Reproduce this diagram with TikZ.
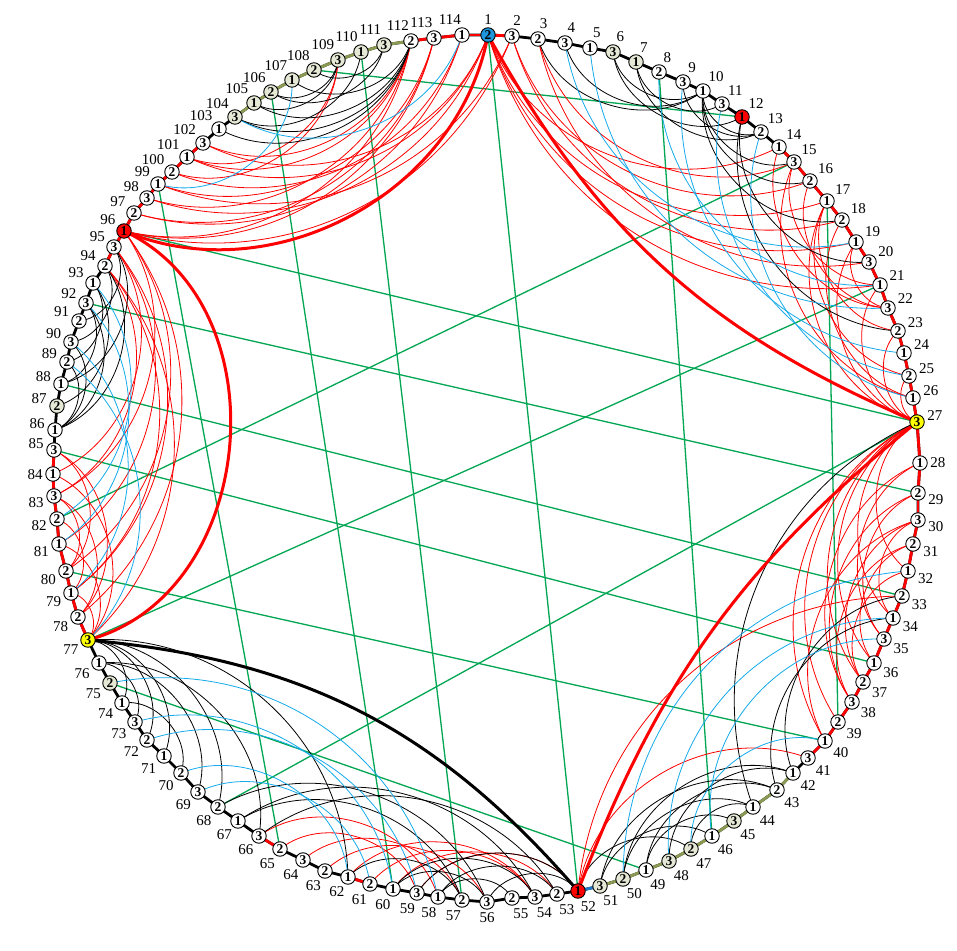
\documentclass[tikz,border=0pt]{standalone}
\usepackage{fontspec}
\setmainfont{Liberation Serif}
\usetikzlibrary{calc}

\definecolor{arcred}{RGB}{255,0,0}
\definecolor{arcblue}{RGB}{20,170,235}
\definecolor{chordgreen}{RGB}{0,166,81}
\definecolor{rimolive}{RGB}{138,154,82}
\definecolor{rimblue}{RGB}{30,120,200}
\definecolor{vtxbeige}{RGB}{230,232,214}
\definecolor{vtxblue}{RGB}{30,150,220}
\definecolor{vtxyellow}{RGB}{255,255,0}

% vertex / x px / y px / colour class / fill
\def\vtxlist{1/488/35/2/vtxblue, 2/512/36/3/white, 3/538/39/2/white, 4/565/43/3/white,
  5/590/48/1/white, 6/613/52/3/vtxbeige, 7/636/62/1/vtxbeige, 8/659/72/2/white,
  9/683/82/3/white, 10/703/91/1/white, 11/722/104/3/white, 12/742/117/1/red,
  13/761/132/2/white, 14/779/147/1/white, 15/794/162/3/white, 16/810/181/2/white,
  17/827/201/1/white, 18/842/220/2/white, 19/856/242/1/white, 20/869/262/3/white,
  21/880/285/1/white, 22/888/308/3/white, 23/898/331/2/white, 24/904/353/1/white,
  25/909/376/2/white, 26/913/398/1/white, 27/917/422/3/vtxyellow, 28/920/463/1/white,
  29/918/493/2/white, 30/918/520/3/white, 31/913/544/2/white, 32/908/571/1/white,
  33/902/596/2/white, 34/893/618/1/white, 35/884/639/3/white, 36/874/663/1/white,
  37/863/682/2/white, 38/852/702/3/white, 39/838/722/2/white, 40/825/741/1/white,
  41/808/758/3/white, 42/793/773/1/white, 43/777/790/2/white, 44/753/807/1/white,
  45/734/821/3/vtxbeige, 46/712/836/1/white, 47/691/849/2/vtxbeige, 48/669/861/3/vtxbeige,
  49/646/870/1/white, 50/623/879/2/vtxbeige, 51/600/886/3/vtxbeige, 52/578/891/1/red,
  53/557/894/2/white, 54/535/897/3/white, 55/512/898/2/white, 56/487/902/3/white,
  57/462/900/2/white, 58/438/897/1/white, 59/417/893/3/white, 60/393/889/1/white,
  61/370/884/2/white, 62/348/877/1/white, 63/325/871/2/white, 64/303/860/3/white,
  65/280/849/2/white, 66/259/836/3/white, 67/238/821/1/white, 68/218/807/2/white,
  69/198/792/3/white, 70/181/773/2/white, 71/164/756/1/white, 72/147/740/2/white,
  73/135/722/3/white, 74/122/703/1/white, 75/110/683/2/vtxbeige, 76/99/663/1/white,
  77/88/640/3/vtxyellow, 78/78/617/2/white, 79/71/593/1/white, 80/66/571/2/white,
  81/59/544/1/white, 82/57/519/2/white, 83/54/496/3/white, 84/53/474/1/white,
  85/54/450/3/white, 86/55/430/1/white, 87/57/406/2/vtxbeige, 88/61/384/1/white,
  89/67/362/2/white, 90/71/342/3/white, 91/79/321/2/white, 92/86/303/3/white,
  93/93/283/1/white, 94/105/266/2/white, 95/114/247/3/white, 96/124/231/1/red,
  97/134/213/2/white, 98/147/198/3/white, 99/158/184/1/white, 100/172/172/2/white,
  101/187/157/1/white, 102/203/143/3/white, 103/219/129/1/white, 104/235/117/3/vtxbeige,
  105/254/103/1/vtxbeige, 106/271/92/2/vtxbeige, 107/292/80/1/vtxbeige, 108/314/70/2/vtxbeige,
  109/338/60/3/vtxbeige, 110/361/52/1/vtxbeige, 111/384/45/3/vtxbeige, 112/411/41/2/white,
  113/434/38/3/white, 114/462/35/1/white}

% thin arcs bent towards the centre
\newcommand{\chords}[2]{%
  \foreach \a/\b in {#2}{%
    \expandafter\let\expandafter\angA\csname ang\a\endcsname
    \expandafter\let\expandafter\angB\csname ang\b\endcsname
    \pgfmathsetmacro\th{mod(\angA-(\angB)+720,360)}
    \pgfmathsetmacro\bnd{ifthenelse(\th<180,1,-1)*0.7*(90-min(\th,360-\th)/2)}
    \pgfmathsetmacro\outa{-\bnd}
    \pgfmathsetmacro\ina{180+\bnd}
    \draw[#1] (p\a) to[out=\outa, in=\ina, relative] (p\b);
  }}

\begin{document}
\begin{tikzpicture}[x=1pt, y=1pt,
    vtx/.style={circle, draw, line width=0.9pt, minimum size=14.5pt, inner sep=0pt,
      font=\fontsize{13.5}{13.5}\selectfont\bfseries},
    lbl/.style={font=\fontsize{15}{15}\selectfont, label distance=2pt, inner sep=0.5pt},
    rim/.style={line width=2.8pt, line cap=round},
    thinred/.style={arcred, line width=0.8pt},
    thinblack/.style={black, line width=0.8pt},
    thinblue/.style={arcblue, line width=0.8pt},
    chord/.style={chordgreen, line width=1.3pt},
    heavy/.style={line width=3pt}]
  \useasboundingbox (0,0) rectangle (957,950);

  % vertex positions and their angles round the centre
  \foreach \i/\x/\y/\d/\s in \vtxlist {
    \coordinate (p\i) at (\x,{950-\y});
    \pgfmathsetmacro\ang{atan2(467.5-\y,\x-485.5)}
    \expandafter\xdef\csname ang\i\endcsname{\ang}
  }

  % Green straight chords
  \foreach \a/\b in {1/52, 108/12, 110/57, 106/60, 99/65, 8/46, 17/39, 15/82,
      21/77, 27/68, 27/96, 33/88, 36/85, 40/80, 29/92, 75/49}
    \draw[chord] (p\a) -- (p\b);

  % Red thin arcs
  \chords{thinred}{96/112, 96/113, 96/2, 97/113, 97/114, 98/112, 98/1, 99/113, 99/2,
    100/109, 100/114, 101/109, 101/112, 101/1, 102/1, 102/112,
    1/14, 1/17, 1/19, 1/21, 2/16, 2/18, 3/15, 3/20, 14/22, 15/21, 15/26, 16/22,
    17/23, 17/25, 18/26, 19/22, 17/27, 19/27, 21/27, 23/27, 25/27,
    27/32, 27/34, 27/36, 27/37, 27/39, 27/40, 28/35, 28/38, 29/35, 29/38,
    30/34, 30/37, 30/40, 31/36, 31/38, 32/37, 33/52, 41/52,
    77/79, 77/81, 77/84, 78/83, 78/85, 79/82, 80/83, 80/85,
    96/78, 96/80, 96/83, 95/79, 95/81, 95/84, 94/77, 94/79, 94/83,
    58/66, 59/65, 57/64, 56/63, 54/62, 54/61, 53/60, 52/59}

  % Black thin arcs
  \chords{thinblack}{103/112, 104/112, 105/112, 107/112, 104/110, 106/109, 106/111,
    108/111, 105/109,
    3/10, 4/10, 6/10, 7/11, 6/12, 7/13, 9/13, 10/13, 10/15, 10/16, 10/18, 12/20, 12/23,
    27/44, 33/42, 34/43, 42/48, 42/50, 43/49, 43/51, 44/47, 44/50, 45/49, 46/51, 47/52,
    52/56, 52/59, 53/58, 54/60, 55/58, 56/60, 57/62, 53/66, 54/67, 57/67, 56/68,
    68/77, 71/77, 72/77, 74/77, 69/76, 73/76, 70/74, 62/77, 66/76,
    86/89, 86/90, 86/92, 86/94, 87/93, 88/92, 88/95, 89/93, 90/94, 91/95}

  % Blue thin arcs
  \chords{thinblue}{99/107, 104/114, 4/19, 5/22, 8/21, 9/24, 11/25, 13/26,
    32/50, 34/48, 35/46, 40/47, 58/75, 60/73, 59/72, 62/70, 61/69,
    77/89, 79/90, 81/92, 82/93}

  % Heavy arcs between the marked vertices
  \draw[heavy, arcred] (p96) to[bend right=51] (p1);
  \draw[heavy, arcred] (p1) to[bend right=19] (p27);
  \draw[heavy, arcred] (p27) to[bend right=15] (p52);
  \draw[heavy, black] (p52) to[bend right=22] (p77);
  \draw[heavy, arcred] (p77) to[bend right=70, looseness=1.1] (p96);

  % Outer cycle
  \draw[rim] (p1) \foreach \i in {2,...,114} { -- (p\i) } -- cycle;
  \foreach \a in {112,113,114,1,61,65} {
    \pgfmathtruncatemacro\b{mod(\a,114)+1}
    \draw[rim, arcred] (p\a) -- (p\b);
  }
  \foreach \a in {14,...,40} {
    \pgfmathtruncatemacro\b{\a+1}
    \draw[rim, arcred] (p\a) -- (p\b);
  }
  \foreach \a in {77,...,84} {
    \pgfmathtruncatemacro\b{\a+1}
    \draw[rim, arcred] (p\a) -- (p\b);
  }
  \foreach \a in {94,...,101} {
    \pgfmathtruncatemacro\b{\a+1}
    \draw[rim, arcred] (p\a) -- (p\b);
  }
  \foreach \a in {42,...,50} {
    \pgfmathtruncatemacro\b{\a+1}
    \draw[rim, rimolive] (p\a) -- (p\b);
  }
  \foreach \a in {104,...,111} {
    \pgfmathtruncatemacro\b{\a+1}
    \draw[rim, rimolive] (p\a) -- (p\b);
  }
  \draw[rim, rimblue] (p51) -- (p52);

  % Vertices with their colour class and number
  \foreach \i/\x/\y/\d/\s in \vtxlist {
    \expandafter\let\expandafter\va\csname ang\i\endcsname
    \node[vtx, fill=\s, label={[lbl]\va:\i}] (v\i) at (p\i) {\d};
  }
\end{tikzpicture}
\end{document}
